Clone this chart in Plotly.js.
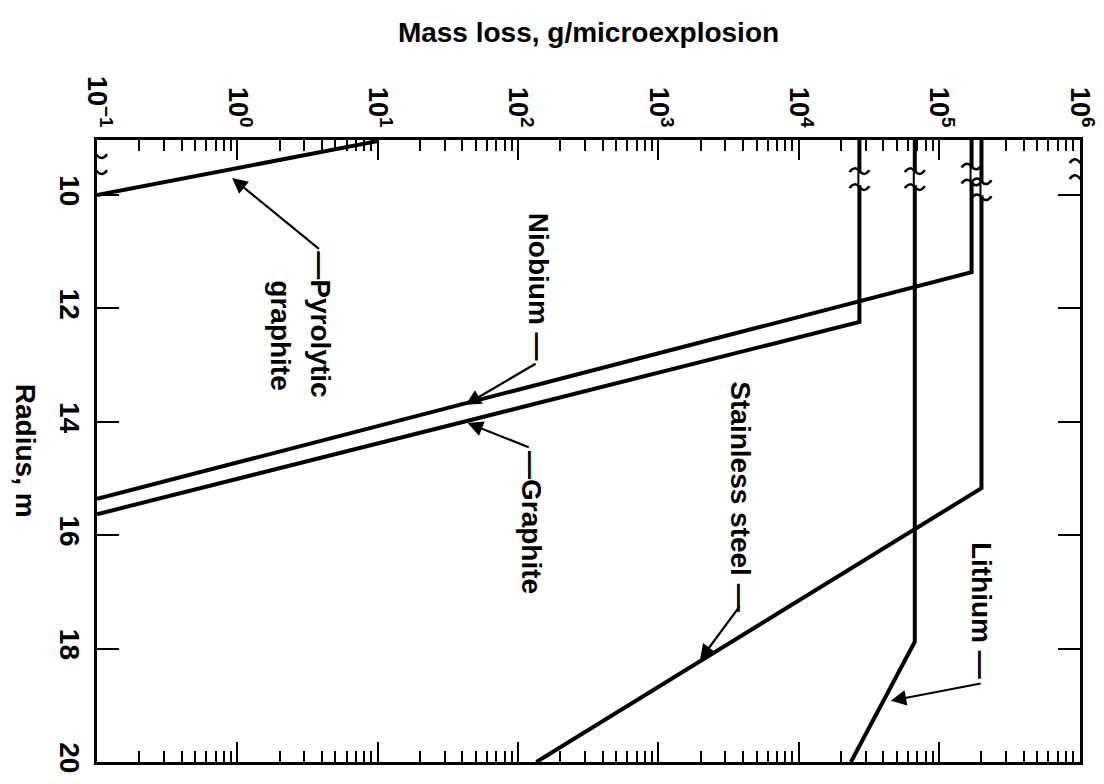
<!DOCTYPE html>
<html>
<head>
<meta charset="utf-8">
<script src="https://cdn.plot.ly/plotly-3.0.1.min.js"></script>
<style>html,body{margin:0;padding:0;background:#fff}#chart{width:1104px;height:784px}</style>
</head>
<body>
<div id="chart"></div>
<script>
// ---- data ----
const radiusTicks = [10, 12, 14, 16, 18, 20];
const massTickVals = [0.1, 1, 10, 100, 1e3, 1e4, 1e5, 1e6];
const massTickText = ['10<sup>\u22121</sup>', '10<sup>0</sup>', '10<sup>1</sup>', '10<sup>2</sup>',
                      '10<sup>3</sup>', '10<sup>4</sup>', '10<sup>5</sup>', '10<sup>6</sup>'];
const decades = [0.1, 1, 10, 100, 1e3, 1e4, 1e5];
const minorDigits = [2, 3, 4, 5, 6, 7, 8, 9];

// series: radius (m) and mass loss (g/microexplosion)
const pyroR  = [9.05, 10.0];          const pyroM  = [10, 0.1];
const niobR  = [9.03, 11.36, 15.36];  const niobM  = [1.7e5, 1.7e5, 0.1];
const graphR = [9.03, 12.24, 15.63];  const graphM = [2.7e4, 2.7e4, 0.1];
const steelR = [9.03, 15.17, 20.0];   const steelM = [2.0e5, 2.0e5, 135];
const lithR  = [9.03, 17.88, 20.0];   const lithM  = [6.7e4, 6.7e4, 2.35e4];

const minorVals = [];
decades.forEach(d => minorDigits.forEach(k => minorVals.push(d * k)));

const FONT = 'Liberation Sans, Arial, Helvetica, sans-serif';
const lineStyle = {color: '#000', width: 4};
function tr(name, R, M) {
  return {type: 'scatter', mode: 'lines', name: name, x: M, y: R, line: lineStyle,
          showlegend: false, hoverinfo: 'skip', cliponaxis: true};
}
const data = [
  tr('Pyrolytic graphite', pyroR, pyroM),
  tr('Niobium', niobR, niobM),
  tr('Graphite', graphR, graphM),
  tr('Stainless steel', steelR, steelM),
  tr('Lithium', lithR, lithM)
];

const lab = (text, lx, r) => ({x: lx, y: r, xref: 'x', yref: 'y', text: text, showarrow: false,
  textangle: 90, xanchor: 'center', yanchor: 'middle',
  font: {family: FONT, size: 28, color: '#000', weight: 'bold'}});
const arr = (lx, r, alx, ar) => ({x: lx, y: r, ax: alx, ay: ar, xref: 'x', yref: 'y',
  axref: 'x', ayref: 'y', text: '', showarrow: true, arrowhead: 2, arrowsize: 1.4,
  arrowwidth: 2.2, arrowcolor: '#000', standoff: 0, startstandoff: 0});

const annotations = [
  lab('Niobium \u2014', 2.142, 11.62),
  arr(1.626, 13.70, 2.135, 12.96),
  lab('\u2014Graphite', 2.10, 15.77),
  arr(1.64, 14.02, 2.086, 14.46),
  lab('Stainless steel \u2014', 3.586, 15.31),
  arr(3.296, 18.20, 3.586, 17.23),
  lab('Lithium \u2014', 5.306, 17.32),
  arr(4.655, 18.92, 5.306, 18.61),
  lab('\u2014Pyrolytic', 0.592, 12.29),
  lab('graphite', 0.309, 12.47),
  arr(-0.0375, 9.70, 0.592, 10.97),
  {x: -0.01, y: 0.5, xref: 'paper', yref: 'paper', xanchor: 'center', yanchor: 'middle',
   text: 'Radius, m', textangle: 90, showarrow: false, xshift: -61,
   font: {family: FONT, size: 28, color: '#000', weight: 'bold'}}
];

// axis-break marks (white gap with two tildes), anchored in data space, sized in pixels
function brk(m, r) {
  const base = {xref: 'x', yref: 'y', xsizemode: 'pixel', ysizemode: 'pixel',
                xanchor: m, yanchor: r, layer: 'above'};
  return [
    Object.assign({}, base, {type: 'rect', x0: -6, x1: 6, y0: -6, y1: 6,
                             fillcolor: '#fff', line: {width: 0}}),
    Object.assign({}, base, {type: 'path', path: 'M-10,7 Q-5,14 0,8 T10,9',
                             line: {color: '#000', width: 2.5}}),
    Object.assign({}, base, {type: 'path', path: 'M-10,-9 Q-5,-2 0,-8 T10,-7',
                             line: {color: '#000', width: 2.5}})
  ];
}
const shapes = [].concat(
  brk(massTickVals[0], 9.44), brk(massTickVals[7], 9.56),
  brk(graphM[0], 9.72), brk(lithM[0], 9.72),
  brk(niobM[0], 9.64), brk(steelM[0], 9.90));

const layout = {
  width: 1104, height: 784,
  margin: {l: 97, r: 24, t: 140, b: 22},
  paper_bgcolor: '#fff', plot_bgcolor: '#fff',
  font: {family: FONT, size: 28, color: '#000', weight: 'bold'},
  showlegend: false,
  xaxis: {
    type: 'log', side: 'top', range: [-1, 6.003],
    tickmode: 'array', tickvals: massTickVals, ticktext: massTickText,
    tickangle: 90, tickfont: {family: FONT, size: 27, color: '#000', weight: 'bold'},
    ticklabeloverflow: 'allow',
    ticks: 'inside', ticklen: 20, tickwidth: 2, tickcolor: '#000',
    minor: {tickmode: 'array', tickvals: minorVals, ticks: 'inside', ticklen: 11, tickwidth: 2,
            tickcolor: '#000', showgrid: false},
    showline: true, linewidth: 3, linecolor: '#000', mirror: 'ticks',
    showgrid: false, zeroline: false, ticklabelstandoff: 0,
    title: {text: 'Mass loss, g/microexplosion', standoff: 26,
            font: {family: FONT, size: 28, color: '#000', weight: 'bold'}}
  },
  yaxis: {
    range: [20, 9.03],
    tickmode: 'array', tickvals: radiusTicks, ticktext: radiusTicks.map(String),
    tickangle: 90, tickfont: {family: FONT, size: 28, color: '#000', weight: 'bold'},
    ticklabeloverflow: 'allow',
    ticks: 'inside', ticklen: 22, tickwidth: 2, tickcolor: '#000',
    showline: true, linewidth: 3, linecolor: '#000', mirror: 'ticks',
    showgrid: false, zeroline: false, ticklabelstandoff: 0
  },
  annotations: annotations,
  shapes: shapes
};

Plotly.newPlot('chart', data, layout, {staticPlot: true, displayModeBar: false});
</script>
</body>
</html>
